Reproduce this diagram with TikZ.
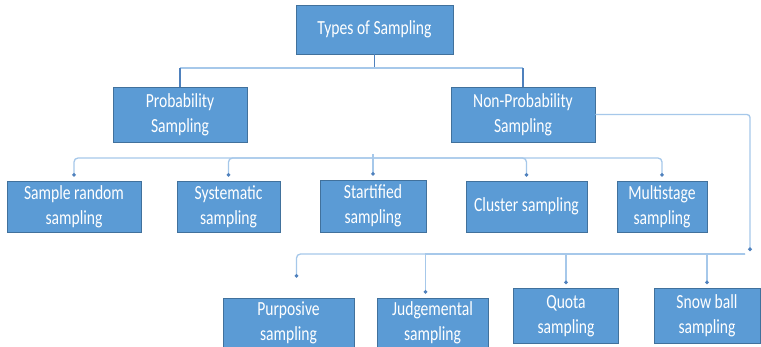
\documentclass[tikz,border=0pt]{standalone}
\usepackage{fontspec}
\setmainfont[FakeStretch=0.78]{Carlito}
\usetikzlibrary{arrows.meta}
\definecolor{boxfill}{HTML}{5B9BD5}
\definecolor{boxline}{HTML}{41719C}
\definecolor{linkc}{HTML}{A6C8EA}
\definecolor{toplinkc}{HTML}{4F81BD}
\begin{document}
\begin{tikzpicture}[x=1pt,y=-1pt,
  sbox/.style={draw=boxline, line width=0.8pt, fill=boxfill, text=white, align=center, inner sep=0pt, font=\fontsize{20}{25}\selectfont},
  lk/.style={draw=linkc, line width=1.3pt},
  tl/.style={draw=toplinkc, line width=1.3pt},
  arr/.style={-{Circle[length=3.5pt,color=toplinkc]}, shorten >=4pt}]
\useasboundingbox (0,0) rectangle (761,346);
\clip (0,0) rectangle (761,346);
\fill[white] (0,0) rectangle (761,346);

% level 1
\node[sbox, minimum width=157pt, minimum height=49pt] (top) at (374.5,29.5) {Types of Sampling};
% level 2
\node[sbox, minimum width=134pt, minimum height=55pt] (prob) at (180,114.5) {Probability\\Sampling};
\node[sbox, minimum width=144pt, minimum height=55pt] (nonp) at (523,114.5) {Non-Probability\\Sampling};
% level 3
\node[sbox, minimum width=134pt, minimum height=51pt] (sr) at (74,206.5) {Sample random\\sampling};
\node[sbox, minimum width=103pt, minimum height=51pt] (sys) at (228.5,206.5) {Systematic\\sampling};
\node[sbox, minimum width=106pt, minimum height=52pt] (str) at (373,206) {Startified\\sampling};
\node[sbox, minimum width=121pt, minimum height=51pt] (clu) at (526.5,206.5) {Cluster sampling};
\node[sbox, minimum width=90pt, minimum height=51pt] (mul) at (662,206.5) {Multistage\\sampling};
% level 4
\node[sbox, minimum width=131pt, minimum height=50pt] (pur) at (288.5,323) {Purposive\\sampling};
\node[sbox, minimum width=111pt, minimum height=50pt] (jud) at (432.5,323) {Judgemental\\sampling};
\node[sbox, minimum width=105pt, minimum height=55pt] (quo) at (566,316) {Quota\\sampling};
\node[sbox, minimum width=106pt, minimum height=55pt] (snow) at (707,316) {Snow ball\\sampling};

% top connectors
\coordinate (tj) at (378,68);
\draw[tl] (top.south) -- (top.south |- tj);
\draw[lk] (prob.north |- tj) -- (nonp.north |- tj);
\draw[tl] (prob.north |- tj) -- (prob.north);
\draw[tl] (nonp.north |- tj) -- (nonp.north);

% probability branch
\coordinate (pb) at (373,158);
\foreach \c in {sr,sys,str,clu,mul}
  \draw[lk,arr,rounded corners=4pt] (pb) -| (\c.north);

% non-probability branch
\coordinate (nc) at (750,255);
\draw[lk,arr,rounded corners=3pt] (nonp.east) -| (nc);
\coordinate (nb) at (745,254);
\draw[lk,arr,rounded corners=4pt] (nb) -| ([xshift=8pt,yshift=16pt]pur.north);
\draw[lk,arr] (nb) -| ([xshift=-7pt]jud.north);
\draw[lk,arr] (nb) -| (quo.north);
\draw[lk,arr] (nb) -| (snow.north);
\end{tikzpicture}
\end{document}
